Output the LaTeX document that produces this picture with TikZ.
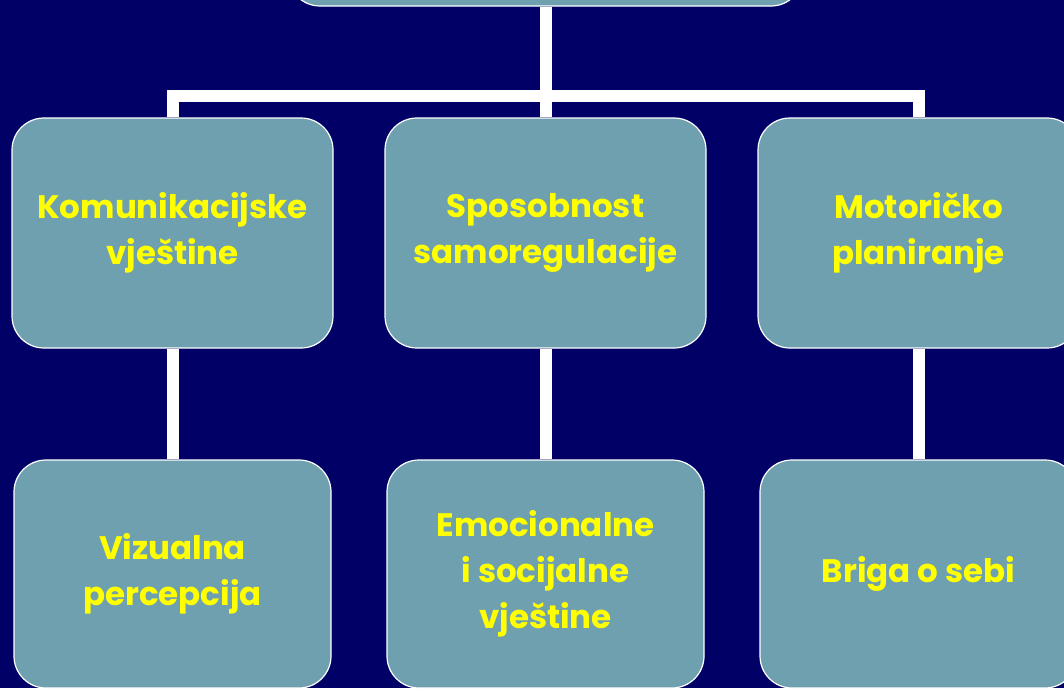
\documentclass[tikz,border=0pt]{standalone}
\usepackage{fontspec}
\setmainfont{Poppins}
\usepackage{xcolor}
\usetikzlibrary{positioning}

\definecolor{slide}{RGB}{0,0,102}
\definecolor{boxfill}{RGB}{111,160,175}
\definecolor{txt}{RGB}{255,255,0}

\begin{document}
\begin{tikzpicture}[x=1pt, y=1pt,
		upper/.style={draw=white, line width=1.2pt, fill=boxfill, rounded corners=32pt, minimum width=321pt, minimum height=230pt, text=txt, font=\bfseries\fontsize{32.5}{46}\selectfont, align=center, node distance={373pt}},
		lower/.style={upper, minimum width=317pt, minimum height=228pt, node distance={341pt}},
		link/.style={draw=white, line width=12pt}
		]
		\useasboundingbox (0,0) rectangle (1064,-688);
		\clip (0,0) rectangle (1064,-688);
		\fill[slide] (0,0) rectangle (1064,-688);
		\node [upper](kom) at (172.5,-233) {Komunikacijske\\ vještine};
		\node [upper](samo) [right of=kom] {Sposobnost\\samoregulacije};
		\node [upper](mot) [right of=samo] {Motoričko\\ planiranje};
		\node [lower, minimum width=515pt](top) [above of=samo] {};
		\node [lower](viz) [below of=kom] {Vizualna\\percepcija};
		\node [lower](emo) [below of=samo] {Emocionalne\\ i socijalne\\vještine};
		\node [lower](briga) [below of=mot] {Briga o sebi};
		\coordinate (bus) at (546,-96);
		
		\draw[link] (kom.north) |- (bus) -| (mot.north);
		\draw[link] (top) -- (samo);
		\draw[link] (kom) -- (viz);
		\draw[link] (samo) -- (emo);
		\draw[link] (mot) -- (briga);
	\end{tikzpicture}
\end{document}
